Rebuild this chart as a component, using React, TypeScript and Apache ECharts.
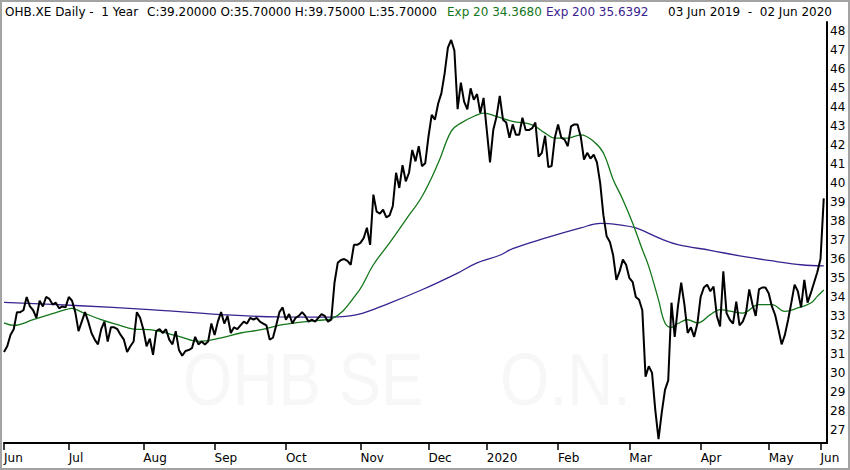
import React, { useEffect, useRef } from 'react';
import * as echarts from 'echarts';

// ---- Calendar (categories) ----
const HOLIDAYS = [
  '2019-12-24', '2019-12-25', '2019-12-26', '2019-12-31',
  '2020-01-01', '2020-04-10', '2020-04-13', '2020-05-01',
];

function buildTradingDays(): string[] {
  const out: string[] = [];
  const d = new Date(Date.UTC(2019, 5, 3));
  const end = Date.UTC(2020, 5, 2);
  while (d.getTime() <= end) {
    const wd = d.getUTCDay();
    const iso = d.toISOString().slice(0, 10);
    if (wd !== 0 && wd !== 6 && HOLIDAYS.indexOf(iso) < 0) out.push(iso);
    d.setUTCDate(d.getUTCDate() + 1);
  }
  return out;
}

const DATES = buildTradingDays();
const CATEGORIES = [...DATES, ''];

// ---- Tick labels ----
const MONTH_TICK_INDEX = [0, 20, 43, 65, 87, 110, 131, 149, 171, 193, 215, 236, 252];
const MONTH_TICK_LABELS = ['Jun', 'Jul', 'Aug', 'Sep', 'Oct', 'Nov', 'Dec', '2020', 'Feb', 'Mar', 'Apr', 'May', 'Jun'];
const Y_TICKS = [27, 28, 29, 30, 31, 32, 33, 34, 35, 36, 37, 38, 39, 40, 41, 42, 43, 44, 45, 46, 47, 48];

// ---- Series values ----
const PRICE = [
  31.1, 31.4, 32.0, 32.3, 33.2, 33.2, 33.3, 34.0, 33.5, 33.3,
  32.9, 33.8, 33.5, 34.0, 33.9, 33.6, 33.7, 33.4, 33.5, 33.45,
  34.0, 33.8, 33.2, 32.2, 32.7, 33.2, 32.7, 32.1, 31.75, 31.5,
  32.3, 32.7, 31.65, 32.4, 32.4, 32.3, 32.0, 31.75, 31.1, 31.4,
  31.65, 33.2, 32.9, 32.3, 31.4, 31.8, 30.95, 32.2, 32.3, 32.1,
  32.3, 31.75, 31.5, 32.2, 31.2, 30.9, 31.15, 31.2, 31.3, 31.9,
  31.5, 31.65, 31.5, 31.65, 32.6, 32.0, 32.7, 33.2, 32.6, 33.0,
  32.1, 32.4, 32.3, 32.5, 32.7, 32.6, 32.9, 32.8, 32.9, 32.7,
  32.6, 32.5, 31.75, 31.85, 32.5, 33.2, 33.45, 32.8, 33.1, 32.6,
  32.9, 33.0, 33.2, 33.0, 32.7, 32.8, 32.7, 32.9, 33.1, 33.0,
  32.7, 32.8, 34.75, 35.8, 35.95, 36.0, 35.9, 35.7, 36.75, 36.75,
  36.85, 37.1, 37.65, 36.75, 39.4, 38.5, 38.4, 38.6, 38.2, 38.3,
  38.8, 40.55, 39.75, 40.95, 40.1, 40.55, 41.75, 41.15, 41.95, 40.9,
  41.05, 42.45, 43.6, 43.35, 44.2, 44.75, 45.8, 47.15, 47.55, 47.0,
  43.9, 45.3, 44.3, 43.9, 45.0, 44.4, 44.7, 43.7, 44.5, 42.8,
  41.1, 42.8, 43.5, 44.6, 43.35, 43.2, 42.4, 43.1, 42.55, 42.55,
  43.45, 42.8, 42.8, 42.9, 43.2, 41.4, 41.6, 42.5, 40.85, 40.9,
  42.4, 43.1, 42.4, 42.3, 41.95, 43.0, 43.1, 43.1, 42.45, 41.25,
  41.6, 41.3, 41.5, 41.1, 40.0, 38.3, 37.2, 36.9, 36.2, 34.9,
  35.35, 35.97, 35.7, 35.0, 34.8, 34.0, 33.85, 33.3, 29.8, 30.35,
  30.0, 28.05, 26.5, 27.9, 29.1, 29.6, 33.7, 31.9, 33.5, 34.75,
  33.6, 32.1, 32.4, 31.9, 32.6, 34.0, 34.5, 34.65, 34.3, 34.55,
  33.0, 32.45, 35.35, 33.15, 32.8, 32.6, 33.75, 32.5, 32.7, 33.15,
  34.4, 33.6, 33.0, 34.4, 34.5, 34.5, 34.2, 33.5, 33.05, 32.3,
  31.5, 32.0, 32.8, 33.7, 34.65, 34.3, 33.45, 34.9, 33.7, 34.2,
  34.75, 35.3, 36.0, 39.2,
];

// Exp 20 read at sparse trading-day positions [index, value]
const EXP20_IDX = [0, 3, 9, 14, 19, 21, 24, 30, 35, 40, 45, 48, 54, 60, 67, 73, 79, 86, 91, 97, 101, 109, 114, 119, 124, 129, 134, 138, 141, 146, 148, 152, 157, 163, 167, 170, 174, 178, 182, 185, 188, 191, 194, 197, 199, 202, 204, 206, 208, 211, 214, 218, 221, 224, 228, 233, 237, 241, 245, 249, 251, 253];
const EXP20_VAL = [32.63, 32.5, 32.8, 33.07, 33.33, 33.4, 33.2, 32.8, 32.54, 32.31, 32.28, 32.18, 31.92, 31.66, 31.84, 32.1, 32.27, 32.54, 32.66, 32.77, 32.85, 34.2, 35.7, 36.85, 38.07, 39.3, 41.06, 42.73, 43.17, 43.6, 43.7, 43.52, 43.26, 43.08, 42.64, 42.38, 42.38, 42.55, 42.2, 41.59, 40.2, 39.13, 37.9, 36.5, 35.6, 33.85, 32.63, 32.4, 32.6, 32.8, 32.63, 33.07, 33.33, 33.25, 33.15, 33.6, 33.6, 33.24, 33.42, 33.68, 34.03, 34.37];

// Exp 200 read at sparse trading-day positions
const EXP200_IDX = [0, 22, 45, 67, 85, 101, 109, 119, 129, 140, 146, 153, 157, 167, 178, 184, 190, 195, 203, 208, 218, 228, 238, 246, 253];
const EXP200_VAL = [33.72, 33.55, 33.33, 33.07, 32.95, 32.94, 33.07, 33.68, 34.38, 35.26, 35.8, 36.2, 36.55, 37.1, 37.64, 37.88, 37.8, 37.64, 37.05, 36.76, 36.46, 36.14, 35.88, 35.7, 35.64];

const FONT = 'DejaVu Sans';
const GREEN = '#13761a';
const PURPLE = '#3a2290';

export default function App() {
  const ref = useRef<HTMLDivElement>(null);

  useEffect(() => {
    if (!ref.current) return;
    const chart = echarts.init(ref.current, undefined, { renderer: 'svg' });
    const tickSet = new Set(MONTH_TICK_INDEX);
    const labelMap: Record<number, string> = {};
    MONTH_TICK_INDEX.forEach((i, k) => { labelMap[i] = MONTH_TICK_LABELS[k]; });

    const headText = (x: number, text: string, fill: string) => ({
      type: 'text', x, y: 12, z: 10,
      style: { text, fill, fontSize: 12, fontFamily: FONT, verticalAlign: 'middle', align: 'left' },
    });

    chart.setOption({
      animation: false,
      backgroundColor: '#ffffff',
      grid: { left: 4, right: 23, top: 22, bottom: 27, containLabel: false },
      xAxis: {
        type: 'category',
        data: CATEGORIES,
        boundaryGap: false,
        axisLine: { show: true, lineStyle: { color: '#000', width: 2 } },
        axisTick: {
          show: true,
          interval: (i: number) => tickSet.has(i),
          length: 7,
          lineStyle: { color: '#000', width: 1.5 },
        },
        axisLabel: {
          interval: (i: number) => tickSet.has(i),
          formatter: (_v: string, i: number) => labelMap[i] ?? '',
          align: 'left',
          margin: 9,
          color: '#000',
          fontSize: 12,
          fontFamily: FONT,
        },
        splitLine: { show: false },
      },
      yAxis: {
        type: 'value',
        position: 'right',
        min: 26.3,
        max: 48.5,
        axisLine: { show: true, lineStyle: { color: '#000', width: 2 } },
        axisTick: { show: false },
        axisLabel: { customValues: Y_TICKS, color: '#000', fontSize: 12, fontFamily: FONT, margin: 3 },
        splitLine: { show: false },
      },
      series: [
        {
          name: 'Exp 200',
          type: 'line',
          data: EXP200_IDX.map((i, k) => [i, EXP200_VAL[k]]),
          smooth: 0.4,
          showSymbol: false,
          silent: true,
          z: 2,
          lineStyle: { color: PURPLE, width: 1.3 },
        },
        {
          name: 'Exp 20',
          type: 'line',
          data: EXP20_IDX.map((i, k) => [i, EXP20_VAL[k]]),
          smooth: 0.4,
          showSymbol: false,
          silent: true,
          z: 3,
          lineStyle: { color: GREEN, width: 1.3 },
        },
        {
          name: 'OHB.XE',
          type: 'line',
          data: PRICE,
          showSymbol: false,
          silent: true,
          z: 4,
          lineStyle: { color: '#000', width: 2 },
        },
      ],
      graphic: [
        {
          type: 'text', x: 183, y: 380, z: 0, scaleX: 0.86,
          style: { text: 'OHB SE', fill: '#f7f7f7', fontSize: 74, fontFamily: 'Liberation Sans', verticalAlign: 'middle', align: 'left' },
        },
        {
          type: 'text', x: 500, y: 380, z: 0, scaleX: 0.86,
          style: { text: 'O.N.', fill: '#f7f7f7', fontSize: 74, fontFamily: 'Liberation Sans', verticalAlign: 'middle', align: 'left' },
        },
        headText(5, 'OHB.XE Daily -  1 Year', '#000'),
        headText(147, 'C:39.20000 O:35.70000 H:39.75000 L:35.70000', '#000'),
        headText(447, 'Exp 20 34.3680', GREEN),
        headText(546, 'Exp 200 35.6392', PURPLE),
        headText(668, '03 Jun 2019  -  02 Jun 2020', '#000'),
        {
          type: 'rect', z: 20,
          shape: { x: 1, y: 1, width: 848, height: 468 },
          style: { fill: 'transparent', stroke: '#a3a3a3', lineWidth: 2 },
        },
      ],
    });
    return () => chart.dispose();
  }, []);

  return (
    <div
      ref={ref}
      style={{ position: 'fixed', left: 0, top: 0, width: 850, height: 470, background: '#fff' }}
    />
  );
}
